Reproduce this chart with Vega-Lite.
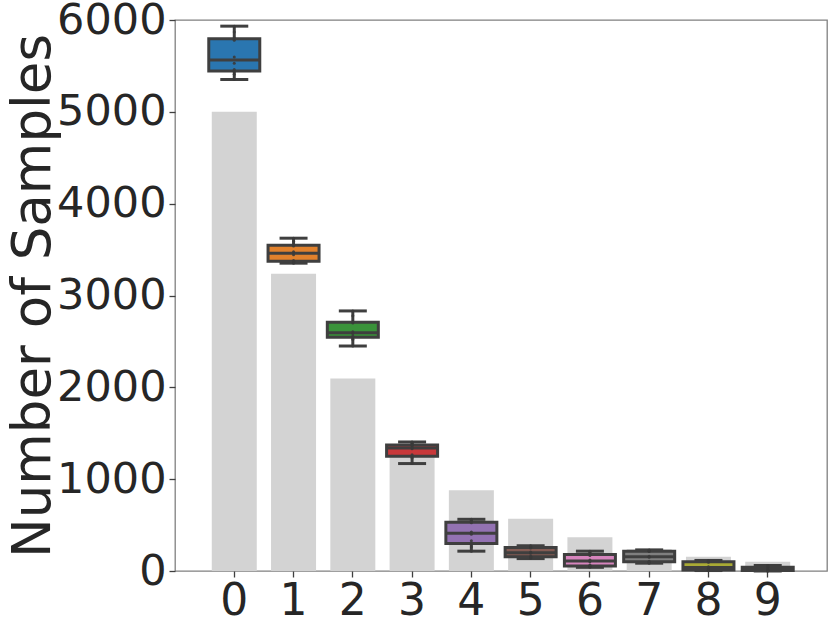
{
  "$schema": "https://vega.github.io/schema/vega-lite/v6.json",
  "width": 652,
  "height": 551,
  "autosize": {"type": "none"},
  "padding": {"left": 175, "top": 20, "right": 3, "bottom": 52},
  "background": "white",
  "config": {
    "font": "DejaVu Sans",
    "view": {"stroke": "#808080", "strokeWidth": 1.3},
    "axis": {"grid": false, "domain": false, "labelFont": "DejaVu Sans", "titleFont": "DejaVu Sans", "labelColor": "#262626", "titleColor": "#262626", "tickColor": "#3f3f3f", "tickWidth": 1.3, "tickSize": 6}
  },
  "datasets": {
    "bars": [
      {"cls": 0, "count": 5000}, {"cls": 1, "count": 3237}, {"cls": 2, "count": 2095}, {"cls": 3, "count": 1357}, {"cls": 4, "count": 878},
      {"cls": 5, "count": 568}, {"cls": 6, "count": 368}, {"cls": 7, "count": 238}, {"cls": 8, "count": 154}, {"cls": 9, "count": 100}
    ],
    "boxes": [
      {"cls": 0, "lo": 5352, "q1": 5445, "med": 5564, "q3": 5797, "hi": 5933},
      {"cls": 1, "lo": 3352, "q1": 3374, "med": 3461, "q3": 3548, "hi": 3624},
      {"cls": 2, "lo": 2450, "q1": 2545, "med": 2595, "q3": 2708, "hi": 2832},
      {"cls": 3, "lo": 1170, "q1": 1250, "med": 1340, "q3": 1372, "hi": 1405},
      {"cls": 4, "lo": 216, "q1": 300, "med": 412, "q3": 532, "hi": 563},
      {"cls": 5, "lo": 135, "q1": 155, "med": 200, "q3": 255, "hi": 275},
      {"cls": 6, "lo": 40, "q1": 55, "med": 110, "q3": 180, "hi": 216},
      {"cls": 7, "lo": 85, "q1": 100, "med": 155, "q3": 215, "hi": 230},
      {"cls": 8, "lo": 5, "q1": 10, "med": 38, "q3": 100, "hi": 115},
      {"cls": 9, "lo": 0, "q1": 5, "med": 15, "q3": 40, "hi": 60}
    ],
    "points": [
      {"cls": 0, "v": 5352}, {"cls": 0, "v": 5410}, {"cls": 0, "v": 5440}, {"cls": 0, "v": 5460}, {"cls": 0, "v": 5530}, {"cls": 0, "v": 5598}, {"cls": 0, "v": 5780}, {"cls": 0, "v": 5803}, {"cls": 0, "v": 5870}, {"cls": 0, "v": 5933},
      {"cls": 1, "v": 3352}, {"cls": 1, "v": 3365}, {"cls": 1, "v": 3372}, {"cls": 1, "v": 3380}, {"cls": 1, "v": 3445}, {"cls": 1, "v": 3477}, {"cls": 1, "v": 3540}, {"cls": 1, "v": 3551}, {"cls": 1, "v": 3590}, {"cls": 1, "v": 3624},
      {"cls": 2, "v": 2450}, {"cls": 2, "v": 2520}, {"cls": 2, "v": 2540}, {"cls": 2, "v": 2560}, {"cls": 2, "v": 2585}, {"cls": 2, "v": 2605}, {"cls": 2, "v": 2700}, {"cls": 2, "v": 2711}, {"cls": 2, "v": 2780}, {"cls": 2, "v": 2832},
      {"cls": 3, "v": 1170}, {"cls": 3, "v": 1230}, {"cls": 3, "v": 1245}, {"cls": 3, "v": 1265}, {"cls": 3, "v": 1330}, {"cls": 3, "v": 1350}, {"cls": 3, "v": 1370}, {"cls": 3, "v": 1373}, {"cls": 3, "v": 1390}, {"cls": 3, "v": 1405},
      {"cls": 4, "v": 216}, {"cls": 4, "v": 260}, {"cls": 4, "v": 290}, {"cls": 4, "v": 330}, {"cls": 4, "v": 400}, {"cls": 4, "v": 424}, {"cls": 4, "v": 525}, {"cls": 4, "v": 535}, {"cls": 4, "v": 550}, {"cls": 4, "v": 563},
      {"cls": 5, "v": 135}, {"cls": 5, "v": 148}, {"cls": 5, "v": 153}, {"cls": 5, "v": 161}, {"cls": 5, "v": 192}, {"cls": 5, "v": 208}, {"cls": 5, "v": 250}, {"cls": 5, "v": 257}, {"cls": 5, "v": 266}, {"cls": 5, "v": 275},
      {"cls": 6, "v": 40}, {"cls": 6, "v": 48}, {"cls": 6, "v": 52}, {"cls": 6, "v": 64}, {"cls": 6, "v": 100}, {"cls": 6, "v": 120}, {"cls": 6, "v": 170}, {"cls": 6, "v": 183}, {"cls": 6, "v": 200}, {"cls": 6, "v": 216},
      {"cls": 7, "v": 85}, {"cls": 7, "v": 95}, {"cls": 7, "v": 98}, {"cls": 7, "v": 106}, {"cls": 7, "v": 150}, {"cls": 7, "v": 160}, {"cls": 7, "v": 212}, {"cls": 7, "v": 216}, {"cls": 7, "v": 224}, {"cls": 7, "v": 230},
      {"cls": 8, "v": 5}, {"cls": 8, "v": 7}, {"cls": 8, "v": 9}, {"cls": 8, "v": 13}, {"cls": 8, "v": 30}, {"cls": 8, "v": 46}, {"cls": 8, "v": 96}, {"cls": 8, "v": 101}, {"cls": 8, "v": 110}, {"cls": 8, "v": 115},
      {"cls": 9, "v": 0}, {"cls": 9, "v": 3}, {"cls": 9, "v": 4}, {"cls": 9, "v": 8}, {"cls": 9, "v": 12}, {"cls": 9, "v": 18}, {"cls": 9, "v": 36}, {"cls": 9, "v": 41}, {"cls": 9, "v": 52}, {"cls": 9, "v": 60}
    ]
  },
  "encoding": {
    "x": {
      "field": "cls", "type": "ordinal",
      "scale": {"type": "band", "domain": [0,1,2,3,4,5,6,7,8,9], "paddingInner": 0, "paddingOuter": 0.5},
      "axis": {"title": null, "labelAngle": 0, "labelFontSize": 44, "labelPadding": 2}
    }
  },
  "layer": [
    {
      "data": {"name": "bars"},
      "mark": {"type": "bar", "color": "#d3d3d3", "size": 45},
      "encoding": {
        "y": {"field": "count", "type": "quantitative",
          "scale": {"domain": [0, 6000], "nice": false, "zero": true},
          "axis": {"title": "Number of Samples", "format": "d", "values": [0,1000,2000,3000,4000,5000,6000], "labelFontSize": 43, "labelPadding": 3, "titleFontSize": 53, "titleFontWeight": "normal", "titlePadding": -4}}
      }
    },
    {
      "data": {"name": "boxes"},
      "mark": {"type": "rule", "color": "#3f3f3f", "strokeWidth": 3},
      "encoding": {"y": {"field": "lo", "type": "quantitative"}, "y2": {"field": "hi"}}
    },
    {
      "data": {"name": "boxes"},
      "mark": {"type": "tick", "color": "#3f3f3f", "size": 28, "thickness": 3, "opacity": 1},
      "encoding": {"y": {"field": "lo", "type": "quantitative"}}
    },
    {
      "data": {"name": "boxes"},
      "mark": {"type": "tick", "color": "#3f3f3f", "size": 28, "thickness": 3, "opacity": 1},
      "encoding": {"y": {"field": "hi", "type": "quantitative"}}
    },
    {
      "data": {"name": "boxes"},
      "mark": {"type": "bar", "size": 51, "stroke": "#3f3f3f", "strokeWidth": 3, "opacity": 1},
      "encoding": {
        "y": {"field": "q1", "type": "quantitative"}, "y2": {"field": "q3"},
        "color": {"field": "cls", "type": "nominal", "legend": null,
          "scale": {"domain": [0,1,2,3,4,5,6,7,8,9], "range": ["#2a76b0", "#e1812c", "#3a923a", "#c8383a", "#9372b2", "#845b53", "#d684bd", "#7f7f7f", "#a9aa35", "#2eb0be"]}}
      }
    },
    {
      "data": {"name": "boxes"},
      "mark": {"type": "tick", "color": "#3f3f3f", "size": 51, "thickness": 3, "opacity": 1},
      "encoding": {"y": {"field": "med", "type": "quantitative"}}
    },
    {
      "data": {"name": "points"},
      "mark": {"type": "circle", "color": "#3a3a3a", "size": 9, "opacity": 0.9},
      "encoding": {"y": {"field": "v", "type": "quantitative"}}
    }
  ]
}
